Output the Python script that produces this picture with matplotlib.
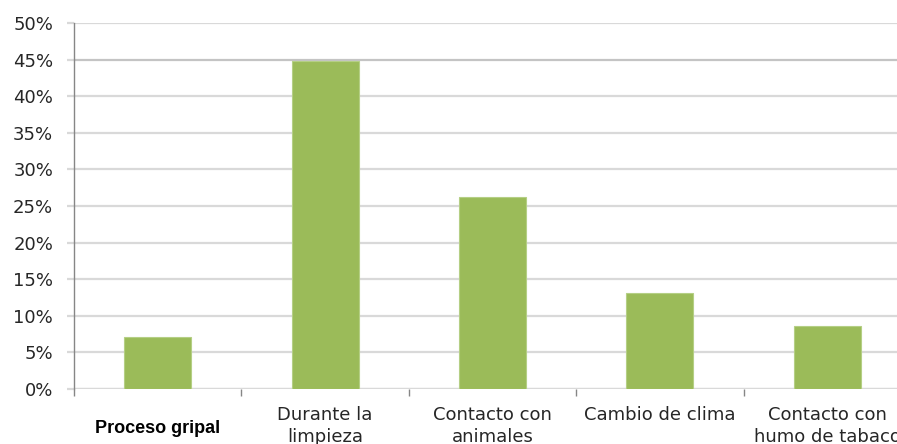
import matplotlib
matplotlib.use("Agg")
import matplotlib.pyplot as plt
from matplotlib.ticker import PercentFormatter

# Share of answers per trigger
categories = ["Proceso gripal", "Durante la\nlimpieza", "Contacto con\nanimales",
              "Cambio de clima", "Contacto con\nhumo de tabaco"]
values = [7.1, 44.8, 26.2, 13.1, 8.6]
y_ticks = [0, 5, 10, 15, 20, 25, 30, 35, 40, 45, 50]

bar_color = "#9BBB59"
grid_color = "#D9D9D9"
axis_color = "#868686"

fig = plt.figure(figsize=(8.97, 4.44), dpi=100)
# axes run slightly past the right edge of the figure
ax = fig.add_axes([0.0825, 0.1239, 0.933, 0.8243])

x = range(len(categories))
ax.bar(x, values, width=0.4, color=bar_color, edgecolor="#B5CF85", linewidth=0.8, zorder=3)

ax.set_xlim(-0.5, len(categories) - 0.5)
ax.set_ylim(0, 50)
ax.set_yticks(y_ticks)
ax.yaxis.set_major_formatter(PercentFormatter(decimals=0))
ax.grid(axis="y", color=grid_color, linewidth=1.6, zorder=0)
ax.set_axisbelow(True)
# the 45% line is drawn a shade darker
ax.get_ygridlines()[9].set_color("#C4C4C4")

for side in ["top", "right", "bottom"]:
    ax.spines[side].set_visible(False)
ax.spines["left"].set_color(axis_color)
ax.spines["left"].set_linewidth(1.0)
ax.axhline(0, color=grid_color, linewidth=1.6, zorder=2)

ax.tick_params(axis="y", length=5, width=1.6, color=grid_color, pad=10,
               labelsize=13, labelcolor="#262626")
ax.set_xticks([i - 0.5 for i in range(len(categories) + 1)])
ax.set_xticklabels([])
ax.tick_params(axis="x", length=5, width=1.0, color=axis_color, direction="out")

# category labels under the bars
for i, label in enumerate(categories):
    if i == 0:
        ax.text(i, -0.109, label, transform=ax.get_xaxis_transform(),
                ha="center", va="center", fontsize=13, fontweight="bold",
                family="Liberation Sans", color="black")
    else:
        ax.text(i, -0.046, label, transform=ax.get_xaxis_transform(),
                ha="center", va="top", fontsize=13, color="#262626",
                linespacing=1.3)

fig.savefig("out.png", dpi=100)
